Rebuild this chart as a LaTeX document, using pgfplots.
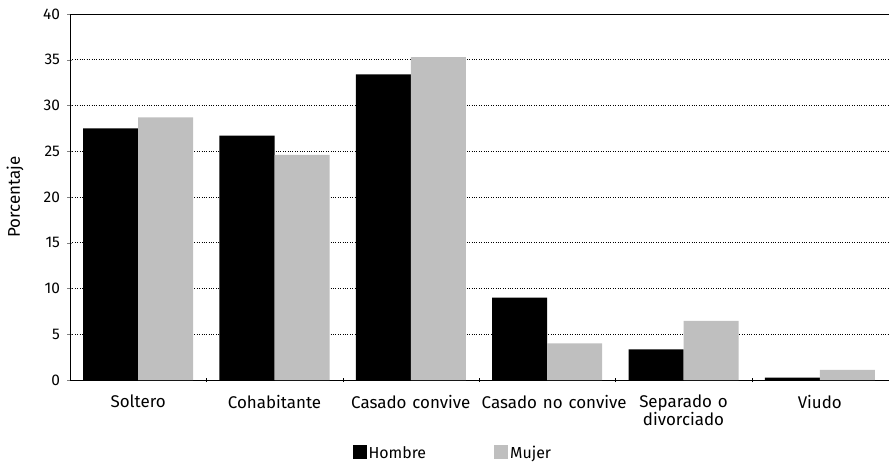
\documentclass[border=0pt]{standalone}
\usepackage{pgfplots}
\pgfplotsset{compat=1.18}
\usepackage{fontspec}
\setmainfont{Fira Sans}[WordSpace=1.3]
\definecolor{mujer}{gray}{0.75}
\begin{document}
\begin{tikzpicture}
\begin{axis}[
  scale only axis,
  width=818bp, height=366bp,
  ybar=0pt, bar width=55bp,
  xmin=-0.5, xmax=5.5, ymin=0, ymax=40,
  xtick=data,
  xticklabels={Soltero,Cohabitante,Casado convive,{\hspace*{14bp}Casado no convive},{Separado o\\divorciado},Viudo},
  xticklabel style={align=center, font=\fontsize{17}{16.5}\selectfont, yshift=-9bp},
  major x tick style={draw=none},
  minor xtick={0.5,1.5,2.5,3.5,4.5},
  minor x tick style={black},
  minor tick length=4bp,
  ytick={0,5,...,40},
  yticklabel style={font=\fontsize{15.5}{16}\selectfont, xshift=-4bp},
  /pgf/number format/assume math mode=true,
  major tick length=5bp,
  tick align=outside,
  axis x line=bottom, axis y line=left,
  axis line style={-, black, line width=1pt},
  ymajorgrids, grid style={black, dotted, line width=0.9pt},
  ylabel={Porcentaje},
  ylabel style={font=\fontsize{17}{17}\selectfont, at={([xshift=-55bp]rel axis cs:0,0.5)}, anchor=center},
  legend style={at={(0.468,-0.2)}, anchor=center, draw=none, legend columns=2,
    font=\fontsize{16}{16}\selectfont, /tikz/every even column/.append style={column sep=66bp}},
  legend image code/.code={\fill[#1] (0bp,-6bp) rectangle (14bp,8bp);},
  clip=false,
]
\addplot[fill=black, draw=none] coordinates {(0,27.5) (1,26.7) (2,33.4) (3,9.0) (4,3.35) (5,0.25)};
\addplot[fill=mujer, draw=none] coordinates {(0,28.7) (1,24.6) (2,35.3) (3,4.0) (4,6.45) (5,1.1)};
\legend{Hombre,Mujer}
\draw[line width=1pt] (rel axis cs:0,1) -- (rel axis cs:1,1);
\coordinate (A) at (rel axis cs:0,0);
\coordinate (B) at (rel axis cs:1,1);
\end{axis}
\pgfresetboundingbox
\path (A) ++(-70bp,-86bp) rectangle ([shift={(2bp,14bp)}]B);
\end{tikzpicture}
\end{document}
